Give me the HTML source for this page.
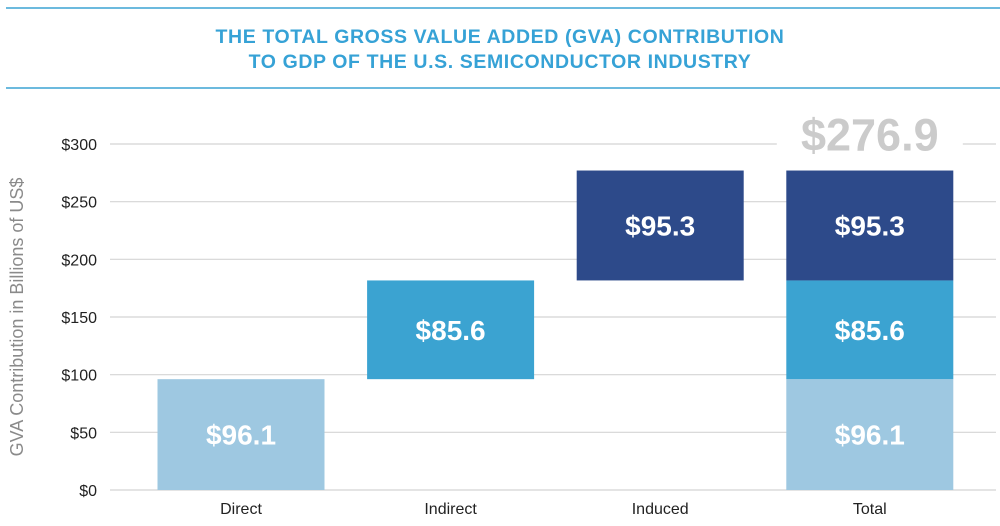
<!DOCTYPE html>
<html><head><meta charset="utf-8"><style>
body{margin:0;background:#fff;width:1000px;height:521px;overflow:hidden;font-family:"Liberation Sans",sans-serif}
</style></head><body>
<svg id="c" width="1000" height="521">
<line x1="6" y1="8" x2="1000" y2="8" stroke="#3ba3d3" stroke-width="1.5"/>
<line x1="6" y1="88" x2="1000" y2="88" stroke="#3ba3d3" stroke-width="1.5"/>
<text x="500" y="43" text-anchor="middle" font-size="19.5" font-weight="bold" fill="#36a2d6" letter-spacing="0.6">THE TOTAL GROSS VALUE ADDED (GVA) CONTRIBUTION</text>
<text x="500" y="68" text-anchor="middle" font-size="19.5" font-weight="bold" fill="#36a2d6" letter-spacing="0.6">TO GDP OF THE U.S. SEMICONDUCTOR INDUSTRY</text>
<text transform="translate(23,317) rotate(-90)" text-anchor="middle" font-size="18" fill="#8a8a8a">GVA Contribution in Billions of US$</text>
<g id="grid"></g><g id="bars"></g>
</svg>
<script>
const categories=["Direct","Indirect","Induced","Total"];
const direct=[96.1];
const indirect=[85.6];
const induced=[95.3];
const total=[276.9];
const ticks=[0,50,100,150,200,250,300];
const tickLabels=["$0","$50","$100","$150","$200","$250","$300"];
const NS="http://www.w3.org/2000/svg";
const y=v=>490-v*346/300;
const xc=i=>241+i*209.6;
const bw=167;
function mk(t,a,p){const e=document.createElementNS(NS,t);for(const k in a)e.setAttribute(k,a[k]);p.appendChild(e);return e;}
const g=document.getElementById('grid'),b=document.getElementById('bars');
ticks.forEach((t,i)=>{
 const l=mk('line',{x1:110,x2:996,y1:y(t),y2:y(t),stroke:'#d4d4d4','stroke-width':1.2},g);
 
 
 const tx=mk('text',{x:97,y:y(t)+6,'text-anchor':'end','font-size':16,fill:'#222'},g);
 tx.textContent=tickLabels[i];
 
 
});
function bar(i,lo,hi,col,name,val){
 const r=mk('rect',{x:xc(i)-bw/2,y:y(hi),width:bw,height:y(lo)-y(hi),fill:col},b);
 
 
 const t=mk('text',{x:xc(i),y:(y(lo)+y(hi))/2+10,'text-anchor':'middle','font-size':28,'font-weight':'bold',fill:'#fff'},b);
 t.textContent='$'+val.toFixed(1);
 
 
}
const d=direct[0],ind=indirect[0],inu=induced[0];
bar(0,0,d,'#9ec8e1','bar-direct',d);
bar(1,d,d+ind,'#3ba3d1','bar-indirect',ind);
bar(2,d+ind,d+ind+inu,'#2d4a8a','bar-induced',inu);
bar(3,0,d,'#9ec8e1','bar-total-direct',d);
bar(3,d,d+ind,'#3ba3d1','bar-total-indirect',ind);
bar(3,d+ind,d+ind+inu,'#2d4a8a','bar-total-induced',inu);
const bg=mk('rect',{x:xc(3)-93,y:y(300)-3,width:186,height:6,fill:'#fff'},b);


const tt=mk('text',{x:xc(3),y:y(total[0])-20,'text-anchor':'middle','font-size':45,'font-weight':'bold',fill:'#cbcbcb'},b);
tt.textContent='$'+total[0].toFixed(1);


categories.forEach((c,i)=>{
 const t=mk('text',{x:xc(i),y:514,'text-anchor':'middle','font-size':16,fill:'#222'},b);
 t.textContent=c;
 
 
});
</script>
</body></html>
